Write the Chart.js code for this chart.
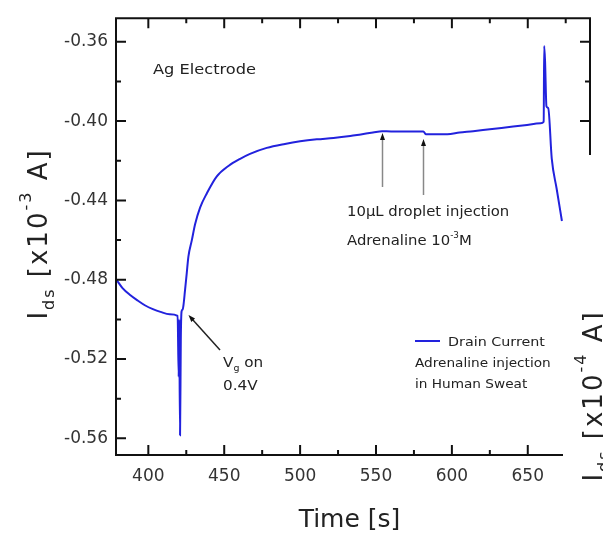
<!DOCTYPE html>
<html>
<head>
<meta charset="utf-8">
<script src="https://cdn.jsdelivr.net/npm/chart.js@4.4.1/dist/chart.umd.min.js"></script>
<style>
  html, body { margin: 0; padding: 0; background: #fff; }
  canvas { display: block; }
</style>
</head>
<body>
<canvas id="grafica" width="603" height="536"></canvas>
<script>
//Datos
const tiempo = [379, 383, 388, 393, 398, 403, 408, 414, 419.3,
  420.0, 420.3, 420.9, 421.4, 421.9, 422.6, 423.1, 424.2, 425.3, 426.4, 428.6,
  430.8, 434.1, 438.5, 445, 453, 460.5, 467, 478, 490, 500, 511, 522, 533,
  540, 548, 554, 560, 570, 581.2, 582.8, 590, 597, 605, 614, 625, 636.5,
  648, 658.5, 660.5, 660.8, 661.4, 662.3, 663.5, 665.8, 669, 672.5];
const corriente = [-0.4800, -0.4842, -0.4877, -0.4905, -0.4930, -0.4948, -0.4962, -0.4974, -0.4982,
  -0.5290, -0.5000, -0.5585, -0.5100, -0.4960, -0.4950, -0.4932, -0.4851, -0.4768, -0.4683, -0.4603,
  -0.4520, -0.4436, -0.4365, -0.4280, -0.4225, -0.4190, -0.4165, -0.4135, -0.4115, -0.4102, -0.4092, -0.4085, -0.4075,
  -0.4067, -0.4058, -0.4051, -0.4052, -0.4052, -0.4052, -0.4066, -0.4066, -0.4066, -0.4058, -0.4051, -0.4041, -0.4031,
  -0.4021, -0.4011, -0.4003, -0.3621, -0.3700, -0.3925, -0.3935, -0.4189, -0.4340, -0.4504];

const ticksX = [400, 450, 500, 550, 600, 650];
const ticksXmenor = [425, 475, 525, 575, 625, 675];
const ticksY = [-0.36, -0.40, -0.44, -0.48, -0.52, -0.56];
const ticksYmenor = [-0.38, -0.42, -0.46, -0.50, -0.54];

const AZUL = '#2222dd';
const FUENTE = '"DejaVu Sans", sans-serif';
const TEXTO = '#222';

const esMayor = (lista, v) => lista.some(t => Math.abs(t - v) < 1e-9);

//texto con subindices / superindices
function textoRico(c, partes, x, y, size, opts) {
  opts = opts || {};
  c.save();
  c.translate(x, y);
  if (opts.rot) c.rotate(opts.rot);
  c.scale(opts.sx || 1, 1);
  c.fillStyle = TEXTO;
  c.textBaseline = 'alphabetic';
  c.textAlign = 'left';
  if (opts.spacing) c.letterSpacing = opts.spacing;
  const fontDe = p => ((p.sub || p.sup) ? Math.round(size * 0.62) : size) + 'px ' + FUENTE;
  let ancho = 0;
  partes.forEach(p => { c.font = fontDe(p); ancho += c.measureText(p.t).width; });
  let cx = opts.center ? -ancho / 2 : 0;
  partes.forEach(p => {
    c.font = fontDe(p);
    const dy = p.sub ? size * 0.25 : (p.sup ? -size * (opts.supShift || 0.5) : 0);
    c.fillText(p.t, cx, dy);
    cx += c.measureText(p.t).width;
  });
  c.restore();
}

function flecha(c, x1, y1, x2, y2, colorLinea) {
  const ang = Math.atan2(y2 - y1, x2 - x1);
  c.save();
  c.strokeStyle = colorLinea;
  c.lineWidth = 1.5;
  c.beginPath();
  c.moveTo(x1, y1);
  c.lineTo(x2 - 5 * Math.cos(ang), y2 - 5 * Math.sin(ang));
  c.stroke();
  c.fillStyle = '#111';
  c.beginPath();
  c.moveTo(x2, y2);
  c.lineTo(x2 - 7 * Math.cos(ang) + 2.5 * Math.sin(ang), y2 - 7 * Math.sin(ang) - 2.5 * Math.cos(ang));
  c.lineTo(x2 - 7 * Math.cos(ang) - 2.5 * Math.sin(ang), y2 - 7 * Math.sin(ang) + 2.5 * Math.cos(ang));
  c.closePath();
  c.fill();
  c.restore();
}

//Marco, ticks hacia adentro, anotaciones y titulos
const marco = {
  id: 'marco',
  afterDraw(chart) {
    const c = chart.ctx;
    const a = chart.chartArea;
    const sx = chart.scales.x;
    const sy = chart.scales.y;
    const corteX = 563, corteY = 155;

    c.save();
    //recorte blanco de la otra grafica
    c.fillStyle = '#fff';
    c.fillRect(corteX, corteY, chart.width - corteX, chart.height - corteY);

    c.strokeStyle = '#111';
    c.lineWidth = 2;
    c.beginPath();
    c.moveTo(a.left, a.top - 1); c.lineTo(a.left, a.bottom + 1);
    c.moveTo(a.left - 1, a.bottom); c.lineTo(corteX, a.bottom);
    c.moveTo(a.left - 1, a.top); c.lineTo(a.right + 1, a.top);
    c.moveTo(a.right, a.top); c.lineTo(a.right, corteY);
    c.stroke();

    c.beginPath();
    [...ticksX, ...ticksXmenor].forEach(v => {
      const px = sx.getPixelForValue(v);
      const largo = esMayor(ticksX, v) ? 10 : 5;
      if (px < corteX) { c.moveTo(px, a.bottom); c.lineTo(px, a.bottom - largo); }
      c.moveTo(px, a.top); c.lineTo(px, a.top + largo);
    });
    [...ticksY, ...ticksYmenor].forEach(v => {
      const py = sy.getPixelForValue(v);
      const largo = esMayor(ticksY, v) ? 10 : 5;
      c.moveTo(a.left, py); c.lineTo(a.left + largo, py);
      if (py <= corteY + 1) { c.moveTo(a.right, py); c.lineTo(a.right - largo, py); }
    });
    c.stroke();
    c.restore();

    //anotaciones
    textoRico(c, [{t: 'Ag Electrode'}], 153, 74, 13.5, {sx: 1.2});

    flecha(c, 382.5, 187, 382.5, 133, '#888');
    flecha(c, 423.5, 195, 423.5, 139, '#888');
    textoRico(c, [{t: '10\u00b5L droplet injection'}], 347, 216, 13.5, {sx: 1.1});
    textoRico(c, [{t: 'Adrenaline 10'}, {t: '-3', sup: true}, {t: 'M'}], 347, 245, 13.5, {sx: 1.1});

    flecha(c, 220, 350, 188.5, 315, '#222');
    textoRico(c, [{t: 'V'}, {t: 'g', sub: true}, {t: ' on'}], 223, 367, 14.5, {sx: 1.05});
    textoRico(c, [{t: '0.4V'}], 223, 390, 14.5, {sx: 1.05});

    //leyenda
    c.save();
    c.strokeStyle = AZUL;
    c.lineWidth = 2;
    c.beginPath();
    c.moveTo(415, 341); c.lineTo(440, 341);
    c.stroke();
    c.restore();
    textoRico(c, [{t: chart.data.datasets[0].label}], 448, 346, 13, {sx: 1.1});
    textoRico(c, [{t: 'Adrenaline injection'}], 415, 367, 13, {sx: 1.05});
    textoRico(c, [{t: 'in Human Sweat'}], 415, 388, 13, {sx: 1.05});

    //titulos de ejes
    textoRico(c, [{t: 'Time [s]'}], 349.5, 527, 25, {center: true});
    const tituloY = exp => [{t: 'I'}, {t: 'ds', sub: true}, {t: ' [x10'}, {t: exp, sup: true}, {t: ' A]'}];
    textoRico(c, tituloY('-3'), 47, 234, 26, {rot: -Math.PI / 2, center: true, spacing: '2px', supShift: 0.62});
    textoRico(c, tituloY('-4'), 602, 396, 26, {rot: -Math.PI / 2, center: true, spacing: '2px', supShift: 0.62});
  }
};

const puntos = tiempo.map((t, i) => ({x: t, y: corriente[i]}));

const grafica = new Chart(document.getElementById('grafica'), {
  type: 'line',
  data: {
    datasets: [{
      label: 'Drain Current',
      data: puntos,
      borderColor: AZUL,
      borderWidth: 2,
      pointRadius: 0,
      cubicInterpolationMode: 'monotone',
      fill: false
    }]
  },
  options: {
    responsive: false,
    animation: false,
    layout: { padding: { top: 10, right: 13, left: 0, bottom: 0 } },
    plugins: {
      legend: { display: false },
      tooltip: { enabled: false }
    },
    scales: {
      x: {
        type: 'linear',
        min: 378.7,
        max: 691,
        grid: { display: false, drawTicks: false },
        border: { display: false },
        afterBuildTicks: s => { s.ticks = [...ticksX, ...ticksXmenor].sort((p, q) => p - q).map(v => ({value: v})); },
        afterFit: s => { s.height = 81; },
        ticks: {
          autoSkip: false,
          maxRotation: 0,
          padding: 11,
          color: '#333',
          font: { family: FUENTE, size: 17 },
          callback: v => esMayor(ticksX, v) ? String(v) : ''
        }
      },
      y: {
        type: 'linear',
        min: -0.5684,
        max: -0.3481,
        grid: { display: false, drawTicks: false },
        border: { display: false },
        afterBuildTicks: s => { s.ticks = [...ticksY, ...ticksYmenor].sort((p, q) => p - q).map(v => ({value: v})); },
        afterFit: s => { s.width = 116; },
        ticks: {
          autoSkip: false,
          padding: 8,
          color: '#333',
          font: { family: FUENTE, size: 17 },
          callback: v => esMayor(ticksY, v) ? v.toFixed(2) : ''
        }
      }
    }
  },
  plugins: [marco]
});
</script>
</body>
</html>
